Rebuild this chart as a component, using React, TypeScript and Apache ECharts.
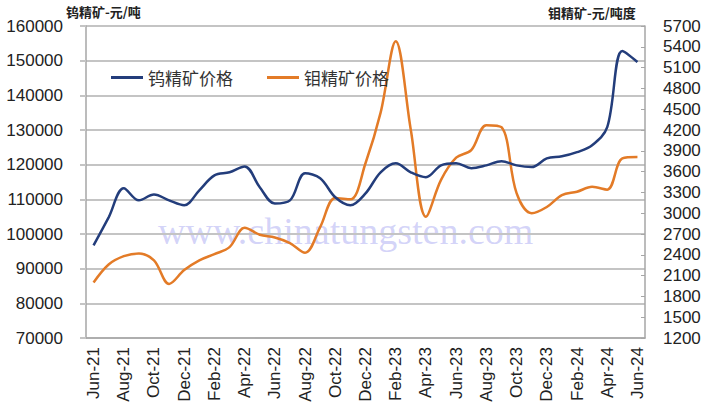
import React, { useEffect, useRef } from "react";
import * as echarts from "echarts";

const categories = [
  "Jun-21", "Jul-21", "Aug-21", "Sep-21", "Oct-21", "Nov-21", "Dec-21",
  "Jan-22", "Feb-22", "Mar-22", "Apr-22", "May-22", "Jun-22", "Jul-22",
  "Aug-22", "Sep-22", "Oct-22", "Nov-22", "Dec-22", "Jan-23", "Feb-23",
  "Mar-23", "Apr-23", "May-23", "Jun-23", "Jul-23", "Aug-23", "Sep-23",
  "Oct-23", "Nov-23", "Dec-23", "Jan-24", "Feb-24", "Mar-24", "Apr-24",
  "May-24", "Jun-24",
];

const tungstenName = "钨精矿价格";
const molyName = "钼精矿价格";

const tungstenPrices = [
  96700, 104800, 113200, 109700, 111400, 109700, 108300,
  112600, 116900, 117800, 119500, 113500, 108800, 109700,
  117500, 116100, 110600, 108300, 111700, 117800, 120400,
  117800, 116400, 119800, 120400, 119000, 119800, 121000,
  119800, 119300, 121800, 122400, 123600, 125600, 130800,
  152800, 149600,
];

const molyPrices = [
  2000, 2260, 2380, 2420, 2320, 1980, 2180,
  2320, 2410, 2510, 2790, 2690, 2650, 2570,
  2430, 2800, 3220, 3200, 3720, 4450, 5480,
  4200, 2950, 3480, 3800, 3910, 4270, 4240,
  3290, 3000, 3090, 3260, 3310, 3380, 3340,
  3790, 3810,
];

const leftAxisTitle = "钨精矿-元/吨";
const rightAxisTitle = "钼精矿-元/吨度";
const watermark = "www.chinatungsten.com";

export default function App() {
  const ref = useRef<HTMLDivElement>(null);

  useEffect(() => {
    if (!ref.current) return;
    const chart = echarts.init(ref.current, undefined, { renderer: "svg" });
    const numFont = "'Liberation Sans', Arial, sans-serif";
    const cjkFont = "'Noto Sans CJK SC', sans-serif";
    const gridColor = "#c4c4c4";
    const plain = (v: number) => String(v);
    chart.setOption({
      animation: false,
      backgroundColor: "#ffffff",
      grid: { left: 86, right: 65, top: 26, bottom: 77, containLabel: false },
      legend: {
        left: 106,
        top: 64,
        itemGap: 34,
        itemWidth: 32,
        itemHeight: 3,
        icon: "rect",
        textStyle: { fontFamily: cjkFont, fontSize: 17, color: "#333" },
        data: [tungstenName, molyName],
      },
      graphic: [
        {
          type: "text",
          left: 66,
          top: 5,
          style: { text: leftAxisTitle, fontFamily: cjkFont, fontSize: 13, fontWeight: "bold", fill: "#222" },
        },
        {
          type: "text",
          left: 548,
          top: 6,
          style: { text: rightAxisTitle, fontFamily: cjkFont, fontSize: 13, fontWeight: "bold", fill: "#222" },
        },
        {
          type: "text",
          left: 158,
          top: 212,
          z: 0,
          style: {
            text: watermark,
            fontFamily: "'Liberation Serif', serif",
            fontSize: 38,
            fill: "rgba(130,130,235,0.35)",
          },
        },
      ],
      xAxis: {
        type: "category",
        data: categories,
        boundaryGap: true,
        axisLine: { lineStyle: { color: "#a6a6a6", width: 1.5 } },
        axisTick: { interval: 1, length: 5, lineStyle: { color: "#a6a6a6" } },
        axisLabel: {
          interval: 1,
          rotate: 90,
          margin: 9,
          fontFamily: numFont,
          fontSize: 17,
          color: "#222",
        },
      },
      yAxis: [
        {
          type: "value",
          min: 70000,
          max: 160000,
          interval: 10000,
          position: "left",
          axisLine: { show: true, lineStyle: { color: "#a6a6a6", width: 1.5 } },
          axisTick: { show: true, length: 6, lineStyle: { color: gridColor, width: 2 } },
          axisLabel: { margin: 23, fontFamily: numFont, fontSize: 17, color: "#222", formatter: plain },
          splitLine: { show: true, lineStyle: { color: gridColor, width: 2 } },
        },
        {
          type: "value",
          min: 1200,
          max: 5700,
          interval: 300,
          position: "right",
          axisLine: { show: true, lineStyle: { color: "#a6a6a6", width: 1.5 } },
          axisTick: { show: true, inside: true, length: 4, lineStyle: { color: "#a6a6a6" } },
          axisLabel: { margin: 18, fontFamily: numFont, fontSize: 17, color: "#222", formatter: plain },
          splitLine: { show: false },
        },
      ],
      series: [
        {
          name: tungstenName,
          type: "line",
          yAxisIndex: 0,
          data: tungstenPrices,
          smooth: 0.35,
          showSymbol: false,
          symbol: "none",
          lineStyle: { color: "#233d7b", width: 2.5 },
          itemStyle: { color: "#233d7b" },
          z: 3,
        },
        {
          name: molyName,
          type: "line",
          yAxisIndex: 1,
          data: molyPrices,
          smooth: 0.35,
          showSymbol: false,
          symbol: "none",
          lineStyle: { color: "#e37b27", width: 2.5 },
          itemStyle: { color: "#e37b27" },
          z: 2,
        },
      ],
    });
    return () => chart.dispose();
  }, []);

  return <div ref={ref} style={{ width: 710, height: 415, position: "absolute", left: 0, top: 0 }} />;
}
